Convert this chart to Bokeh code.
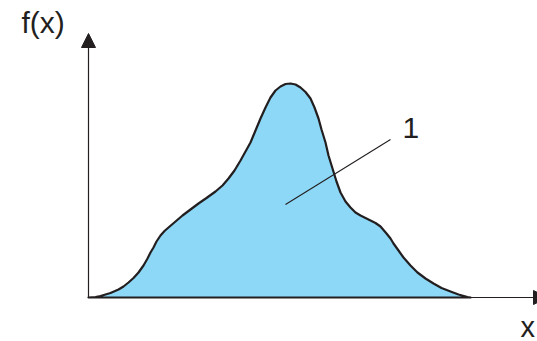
from bokeh.plotting import figure
from bokeh.models import Range1d, Arrow, NormalHead
from bokeh.core.properties import value
from bokeh.embed import file_html
from bokeh.resources import INLINE

# Distribution curve f(x) (arbitrary units)
x_vals = [0, 7, 12, 17, 22, 30, 35, 40, 45, 50, 55, 59, 62, 65, 68, 72, 76, 80, 87, 94,
          102, 110, 118, 127, 134, 140, 146, 152, 157, 162, 167, 172, 177, 182, 187, 192,
          197, 202, 207, 212, 217, 222, 226, 230, 233, 237, 240, 244, 248, 252, 257, 262,
          267, 272, 277, 282, 287, 292, 298, 302, 305, 310, 315, 322, 329, 337, 345, 353,
          362, 370, 379, 382]
f_vals = [0, 0.5, 1.5, 3, 4.5, 8, 11, 15, 19.5, 25, 32, 39, 45, 50, 56, 62, 66.5, 70,
          76, 82, 88, 94, 99.5, 106, 112, 119, 127, 137, 146, 155, 167, 179, 190, 200,
          207, 211, 213.5, 214, 213, 210, 205.5, 199, 190, 179, 168, 155, 142, 129, 116,
          105, 96, 90, 85, 82, 79.5, 77, 74.5, 71, 64, 59, 54, 47, 40, 32, 25, 19, 14,
          9.5, 6, 3, 0.5, 0]

# leader line for label "1"
leader_x = [197, 302]
leader_y = [93, 158]
label_text = ["1"]
y_axis_label = ["f(x)"]
x_axis_label = ["x"]

INK = "#231f20"
FILL = "#8dd8f7"
FONT = value("Liberation Sans")

p = figure(width=537, height=341, output_backend="svg", toolbar_location=None,
           x_range=Range1d(-88, 449), y_range=Range1d(-44, 297),
           min_border=0, outline_line_color=None)
p.axis.visible = False
p.grid.visible = False
p.background_fill_color = "white"
p.border_fill_color = "white"

# filled curve with outline
p.patch(x_vals + [x_vals[0]], f_vals + [f_vals[0]], fill_color=FILL,
        line_color=INK, line_width=2.2, line_join="round")

# axes with arrows
p.add_layout(Arrow(end=NormalHead(size=14, fill_color=INK, line_color=INK),
                   x_start=0, y_start=0, x_end=0, y_end=264,
                   line_color=INK, line_width=1.2))
p.add_layout(Arrow(end=NormalHead(size=14, fill_color=INK, line_color=INK),
                   x_start=0, y_start=0, x_end=459, y_end=0,
                   line_color=INK, line_width=1.2))

# leader line
p.line(leader_x, leader_y, line_color=INK, line_width=1.1)

# labels
p.text(x=[314], y=[159], text=label_text, text_font=FONT, text_font_size="30px",
       text_color=INK, text_baseline="middle", text_align="left", y_offset=-11)
p.text(x=[-67], y=[264], text=y_axis_label, text_font=FONT, text_font_size="30px",
       text_color=INK, text_baseline="middle", text_align="left", y_offset=-11)
p.text(x=[432], y=[-38], text=x_axis_label, text_font=FONT, text_font_size="29px",
       text_color=INK, text_baseline="middle", text_align="left", y_offset=-9)

open("out.html", "w").write(file_html(p, INLINE))
